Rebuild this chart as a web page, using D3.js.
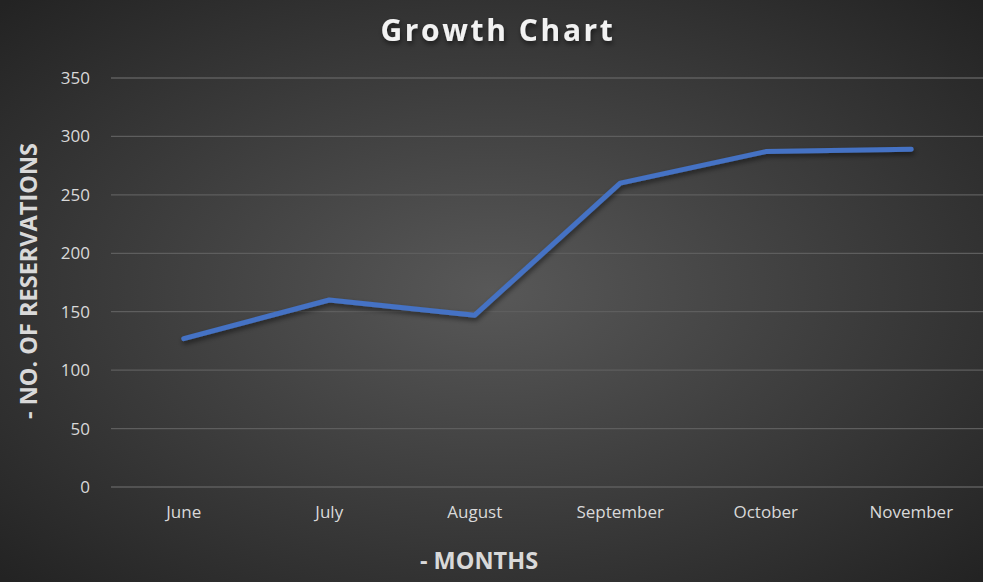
<!DOCTYPE html>
<html>
<head>
<meta charset="utf-8">
<script src="https://cdn.jsdelivr.net/npm/d3@7"></script>
<style>
  body { margin: 0; background: #333; }
  svg { display: block; }
</style>
</head>
<body>
<div id="chart"></div>
<script>
// data
var months = ["June", "July", "August", "September", "October", "November"];
var reservations = [127, 160, 147, 260, 287, 289];
var yTicks = [0, 50, 100, 150, 200, 250, 300, 350];

var W = 983, H = 582;
var margin = {top: 78, right: -1, bottom: 95, left: 111},
    width = W - margin.left - margin.right,
    height = H - margin.top - margin.bottom;

var root = d3.select("#chart")
  .append("svg")
    .attr("width", W)
    .attr("height", H);

var defs = root.append("defs");
var grad = defs.append("radialGradient")
    .attr("id", "bg")
    .attr("cx", "50%").attr("cy", "50%").attr("r", "70%");
grad.append("stop").attr("offset", "0%").attr("stop-color", "#585858");
grad.append("stop").attr("offset", "100%").attr("stop-color", "#232323");

var shadow = defs.append("filter").attr("id", "shadow")
    .attr("x", "-10%").attr("y", "-10%").attr("width", "120%").attr("height", "130%");
shadow.append("feDropShadow")
    .attr("dx", 1).attr("dy", 3).attr("stdDeviation", 2.5)
    .attr("flood-color", "#000").attr("flood-opacity", 0.5);

root.append("rect")
    .attr("width", W).attr("height", H)
    .attr("fill", "url(#bg)");

var svg = root.append("g")
    .attr("transform", "translate(" + margin.left + "," + margin.top + ")");

// scales
var x = d3.scaleBand()
  .domain(months)
  .range([0, width]);

var y = d3.scaleLinear()
  .domain([0, 350])
  .range([height, 0]);

// gridlines
svg.append("g")
  .selectAll("line")
  .data(yTicks)
  .enter()
  .append("line")
    .attr("x1", 0)
    .attr("x2", width)
    .attr("y1", function(d) { return y(d); })
    .attr("y2", function(d) { return y(d); })
    .attr("stroke", "#5e5e5e")
    .attr("stroke-width", 1.3);

// y axis
var yAxis = svg.append("g")
  .call(d3.axisLeft(y).tickValues(yTicks).tickSize(0).tickPadding(21));
yAxis.select(".domain").remove();
yAxis.selectAll("text")
  .attr("fill", "#d9d9d9")
  .style("font-family", "'Open Sans', sans-serif")
  .style("font-size", "17px");

// x axis
var xAxis = svg.append("g")
  .attr("transform", "translate(0," + height + ")")
  .call(d3.axisBottom(x).tickSize(0).tickPadding(19));
xAxis.select(".domain").remove();
xAxis.selectAll("text")
  .attr("fill", "#d9d9d9")
  .style("font-family", "'Open Sans', sans-serif")
  .style("font-size", "17px");

// line
var line = d3.line()
  .x(function(d, i) { return x(months[i]) + x.bandwidth() / 2; })
  .y(function(d) { return y(d); });

svg.append("path")
  .datum(reservations)
  .attr("d", line)
  .attr("fill", "none")
  .attr("stroke", "#4472c4")
  .attr("stroke-width", 5)
  .attr("stroke-linecap", "round")
  .attr("stroke-linejoin", "round")
  .attr("filter", "url(#shadow)");

// title
root.append("text")
  .attr("x", 498)
  .attr("y", 41)
  .attr("text-anchor", "middle")
  .attr("fill", "#f2f2f2")
  .attr("filter", "url(#shadow)")
  .style("font-family", "'Open Sans', sans-serif")
  .style("font-weight", "bold")
  .style("font-size", "30px")
  .style("letter-spacing", "2.6px")
  .text("Growth Chart");

// axis labels
root.append("text")
  .attr("x", 479)
  .attr("y", 569)
  .attr("text-anchor", "middle")
  .attr("fill", "#d9d9d9")
  .style("font-family", "'Open Sans', sans-serif")
  .style("font-weight", "bold")
  .style("font-size", "23.5px")
  .text("- MONTHS");

root.append("text")
  .attr("transform", "translate(37,281) rotate(-90)")
  .attr("text-anchor", "middle")
  .attr("fill", "#d9d9d9")
  .style("font-family", "'Open Sans', sans-serif")
  .style("font-weight", "bold")
  .style("font-size", "23.5px")
  .text("- NO. OF RESERVATIONS");
</script>
</body>
</html>
